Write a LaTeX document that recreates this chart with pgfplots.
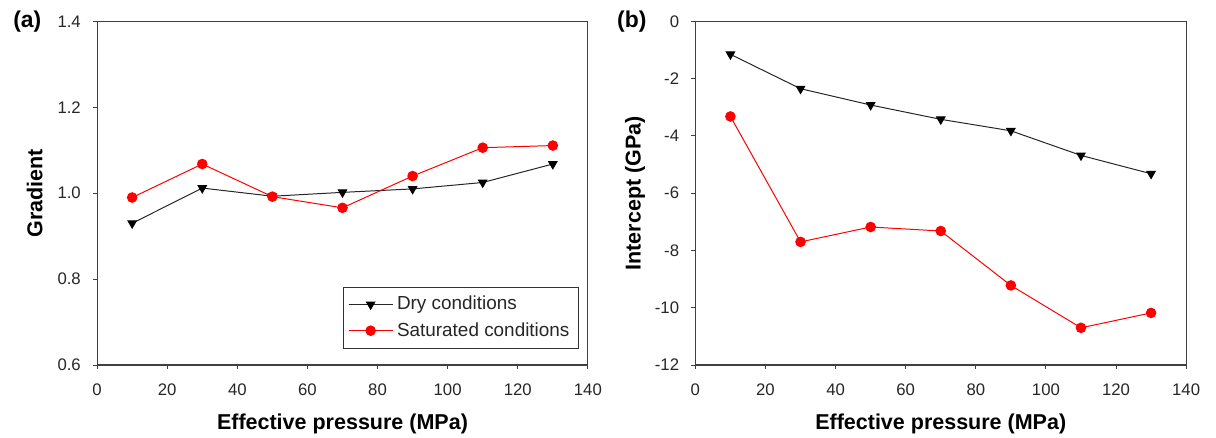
\documentclass[border=0pt]{standalone}
\usepackage{pgfplots}
\pgfplotsset{compat=1.18}
\usepackage{fontspec}
\setmainfont{Liberation Sans}
\begin{document}
\pgfplotsset{
  myax/.style={
    scale only axis, width=246.5pt, height=172.6pt,
    xmin=0, xmax=140, xtick={0,20,...,140},
    axis line style={line width=0.6pt, black!75},
    tick style={black!75, line width=0.5pt},
    tick align=outside, major tick length=2pt,
    xtick pos=bottom, ytick pos=left,
    /pgf/number format/assume math mode=true,
    tick label style={font=\fontsize{8.4}{9}\selectfont, text=black!85, inner sep=0pt},
    xticklabel style={anchor=base, yshift=-13.2pt},
    yticklabel style={anchor=east, xshift=-6pt},
    label style={font=\fontsize{10.8}{12}\selectfont\bfseries},
    xlabel={Effective pressure (MPa)},
    x label style={at={([yshift=-32.6pt]axis description cs:0.5,0)}, anchor=base},
    y label style={at={([xshift=-27.5pt]axis description cs:0,0.5)}, anchor=base},
  },
  dry/.style={black!85, line width=0.5pt, mark=triangle*, mark options={rotate=180, scale=1.2, fill=black, draw=black}},
  sat/.style={red, line width=0.5pt, mark=*, mark options={scale=1.2, fill=red, draw=red}},
}
\begin{tikzpicture}
\path[use as bounding box] (-46pt,-36.2pt) rectangle (562pt,183.35pt);
\begin{axis}[myax, at={(0,0)}, anchor=south west,
  ymin=0.6, ymax=1.4, ytick={0.6,0.8,...,1.4},
  yticklabel style={/pgf/number format/fixed, /pgf/number format/fixed zerofill, /pgf/number format/precision=1},
  ylabel={Gradient},
  legend style={at={([xshift=-4.5pt,yshift=8.3pt]axis description cs:1,0)}, anchor=south east,
    font=\fontsize{9.5}{10}\selectfont, draw=black!80, line width=0.5pt, inner xsep=2.5pt, inner ysep=2.5pt,
    row sep=0.8pt, cells={anchor=west}, text=black!85},
  legend image code/.code={\draw[#1] (0pt,0pt) -- (22pt,0pt); \draw[#1, mark repeat=2, mark phase=2] plot coordinates {(0pt,0pt) (11pt,0pt) (22pt,0pt)};},
]
\addplot[dry] coordinates {(10,0.930) (30,1.012) (50,0.993) (70,1.002) (90,1.010) (110,1.025) (130,1.068)};
\addlegendentry{Dry conditions}
\addplot[sat] coordinates {(10,0.990) (30,1.068) (50,0.992) (70,0.966) (90,1.040) (110,1.106) (130,1.111)};
\addlegendentry{Saturated conditions}
\end{axis}
\node[font=\fontsize{11.5}{12}\selectfont\bfseries, anchor=base west, inner sep=0pt] at (-42.3pt,169.35pt) {(a)};
\begin{axis}[myax, at={(300.5pt,0)}, anchor=south west,
  ymin=-12, ymax=0, ytick={-12,-10,...,0},
  ylabel={Intercept (GPa)},
]
\addplot[dry] coordinates {(10,-1.15) (30,-2.35) (50,-2.92) (70,-3.42) (90,-3.82) (110,-4.68) (130,-5.32)};
\addplot[sat] coordinates {(10,-3.32) (30,-7.70) (50,-7.18) (70,-7.32) (90,-9.22) (110,-10.70) (130,-10.18)};
\end{axis}
\node[font=\fontsize{11.5}{12}\selectfont\bfseries, anchor=base west, inner sep=0pt] at (261pt,169.35pt) {(b)};
\end{tikzpicture}
\end{document}
